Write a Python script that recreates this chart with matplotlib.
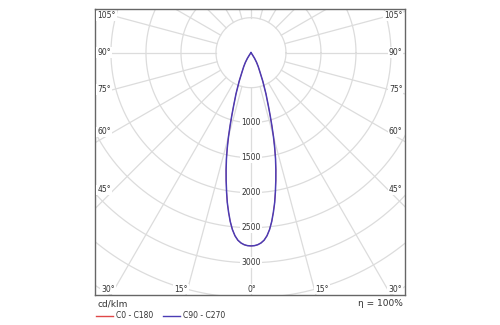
import numpy as np
import matplotlib.pyplot as plt

# luminous intensity distribution, cd/klm, symmetric about nadir
gamma = [0, 1, 2, 3, 4, 5, 6, 7, 8, 9, 10, 11, 12, 13, 14, 15, 16, 17, 18,
         20, 22.5, 25, 27.5, 30, 32.5, 35, 37.5]
c90_c270 = [2760, 2757, 2745, 2722, 2685, 2625, 2540, 2430, 2300, 2165, 2010,
            1860, 1710, 1560, 1400, 1240, 1080, 935, 810,
            625, 440, 300, 225, 160, 95, 30, 0]
c0_c180 = c90_c270  # identical curve, hidden under the C90 one

circle_values = [500, 1000, 1500, 2000, 2500, 3000, 3500, 4000, 4500]
circle_labels = [1000, 1500, 2000, 2500, 3000]
side_angles = [105, 90, 75, 60, 45]
bottom_angles = [30, 15, 0]
eta = "100%"

grid_col = '#dcdcdc'
txt_col = '#333333'


def to_xy(g_deg, intensity):
    g = np.radians(np.asarray(g_deg, dtype=float))
    r = np.asarray(intensity, dtype=float)
    return r * np.sin(g), -r * np.cos(g)


fig = plt.figure(figsize=(5, 3.25), dpi=100)
ax = fig.add_axes([95 / 500, 30 / 325, 310 / 500, 286 / 325])
ax.set_xlim(-2228, 2200)
ax.set_ylim(-3461, 624)
ax.set_aspect('equal', adjustable='box')
ax.set_xticks([])
ax.set_yticks([])
for s in ax.spines.values():
    s.set_color('#666666')
    s.set_linewidth(1.0)

# grid circles
t = np.linspace(0, 2 * np.pi, 721)
for c in circle_values:
    ax.plot(c * np.cos(t), c * np.sin(t), color=grid_col, lw=0.9, zorder=1)

# radial lines every 15 degrees, starting at the inner circle
for a in range(0, 360, 15):
    x, y = to_xy([a, a], [500, 6000])
    ax.plot(x, y, color=grid_col, lw=0.9, zorder=1)

# curves
gg = np.concatenate([-np.array(gamma[::-1]), np.array(gamma[1:])])
ii0 = np.concatenate([np.array(c0_c180[::-1]), np.array(c0_c180[1:])])
ii90 = np.concatenate([np.array(c90_c270[::-1]), np.array(c90_c270[1:])])
x0, y0 = to_xy(gg, ii0)
x90, y90 = to_xy(gg, ii90)
l0, = ax.plot(x0, y0, color='#e04848', lw=0.6, zorder=3, label='C0 - C180')
l90, = ax.plot(x90, y90, color='#4b3cb4', lw=1.1, zorder=4, label='C90 - C270')

box = dict(facecolor='white', edgecolor='none', pad=0.6)
fs = 5.5

# intensity labels along the nadir line
for v in circle_labels:
    ax.text(0, -v, str(v), ha='center', va='center', fontsize=fs,
            color=txt_col, bbox=box, zorder=5)

# angle labels on the left and right edges
xin = 1960
for a in side_angles:
    yl = -xin / np.tan(np.radians(a))
    ax.text(-2195, yl, f'{a}°', ha='left', va='center', fontsize=fs,
            color=txt_col, bbox=box, zorder=5)
    ax.text(2165, yl, f'{a}°', ha='right', va='center', fontsize=fs,
            color=txt_col, bbox=box, zorder=5)

# angle labels along the bottom edge
yb = -3376
for a in bottom_angles:
    xl = -yb * np.tan(np.radians(a))
    off = 110 if a else 0
    ax.text(-(xl + off) + 15, yb, f'{a}°', ha='center', va='center',
            fontsize=fs, color=txt_col, bbox=box, zorder=5)
    if a:
        ax.text(xl + off, yb, f'{a}°', ha='center', va='center',
                fontsize=fs, color=txt_col, bbox=box, zorder=5)

fig.text(97 / 500, 1 - 304 / 325, 'cd/klm', ha='left', va='center',
         fontsize=6.5, color=txt_col)
fig.text(403 / 500, 1 - 304 / 325, 'η = ' + eta, ha='right', va='center',
         fontsize=6.5, color=txt_col)

leg = fig.legend(handles=[l0, l90], loc='center left',
                 bbox_to_anchor=(92 / 500, 1 - 316 / 325), ncol=2, frameon=False,
                 fontsize=fs, handlelength=2.2, handletextpad=0.4,
                 columnspacing=1.3, borderpad=0, labelcolor=txt_col)
for h in leg.get_lines():
    h.set_linewidth(1.0)

fig.savefig('out.png', dpi=100)
